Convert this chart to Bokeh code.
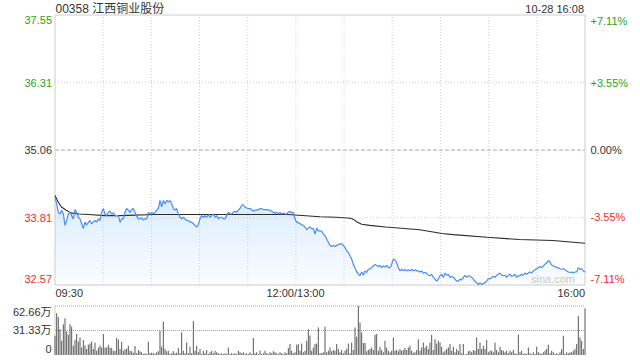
import numpy as np
from bokeh.plotting import figure
from bokeh.models import Range1d, Label
from bokeh.embed import file_html
from bokeh.resources import INLINE

title_text = "00358 江西铜业股份"
stamp_text = "10-28 16:08"
prev_close = 35.06
price_ticks = [37.55, 36.31, 35.06, 33.81, 32.57]
pct_labels = ["+7.11%", "+3.55%", "0.00%", "-3.55%", "-7.11%"]
time_labels = ["09:30", "12:00/13:00", "16:00"]
vol_ticks = [62.66, 31.33, 0]
vol_labels = ["62.66万", "31.33万", "0"]

price = [
    34.19, 34.07, 33.91, 33.88, 33.95, 33.88, 33.67, 33.76, 33.88, 33.91,
    33.85, 33.79, 33.96, 33.91, 33.82, 33.79, 33.70, 33.61, 33.73, 33.68,
    33.72, 33.76, 33.70, 33.73, 33.76, 33.73, 33.79, 33.76, 33.91, 33.98,
    33.88, 33.85, 33.91, 33.93, 33.88, 33.90, 33.85, 33.85, 33.85, 33.73,
    33.79, 33.79, 33.91, 33.98, 33.95, 33.91, 33.96, 33.98, 33.91, 33.85,
    33.79, 33.79, 33.81, 33.77, 33.79, 33.79, 33.91, 33.88, 33.91, 33.88,
    33.91, 33.95, 33.98, 34.13, 34.01, 34.13, 34.07, 34.13, 34.10, 34.13,
    34.07, 33.99, 33.95, 33.98, 33.88, 33.82, 33.79, 33.82, 33.79, 33.76,
    33.76, 33.73, 33.73, 33.70, 33.67, 33.64, 33.68, 33.79, 33.85, 33.82,
    33.85, 33.82, 33.87, 33.82, 33.85, 33.88, 33.82, 33.85, 33.79, 33.82,
    33.82, 33.79, 33.79, 33.85, 33.91, 33.88, 33.88, 33.91, 33.93, 33.91,
    33.95, 33.98, 34.04, 34.05, 34.01, 33.99, 33.98, 33.98, 33.96, 33.93,
    33.95, 33.95, 33.96, 33.98, 33.98, 33.96, 33.96, 33.96, 33.95, 33.95,
    33.93, 33.91, 33.90, 33.91, 33.88, 33.91, 33.88, 33.90, 33.88, 33.88,
    33.91, 33.93, 33.90, 33.91, 33.79, 33.73, 33.72, 33.70, 33.68, 33.67,
    33.64, 33.59, 33.62, 33.64, 33.61, 33.61, 33.51, 33.62, 33.57,
    33.57, 33.56, 33.51, 33.48, 33.42, 33.36, 33.30, 33.28, 33.30, 33.28,
    33.30, 33.31, 33.33, 33.33, 33.30, 33.26, 33.20, 33.17, 33.11, 33.05,
    32.95, 32.89, 32.81, 32.77, 32.74, 32.81, 32.75, 32.83, 32.80, 32.86,
    32.87, 32.89, 32.92, 32.95, 32.93, 32.91, 32.93, 32.89, 32.92, 32.90,
    32.93, 32.89, 32.89, 32.95, 33.05, 33.03, 32.98, 32.89, 32.83, 32.86,
    32.83, 32.86, 32.83, 32.85, 32.83, 32.86, 32.83, 32.85, 32.83, 32.83,
    32.81, 32.83, 32.79, 32.80, 32.79, 32.75, 32.74, 32.77, 32.71, 32.68,
    32.64, 32.68, 32.74, 32.77, 32.71, 32.79, 32.75, 32.77, 32.71, 32.73,
    32.71, 32.68, 32.64, 32.64, 32.68, 32.66, 32.71, 32.75, 32.71, 32.74,
    32.73, 32.71, 32.68, 32.64, 32.61, 32.58, 32.61, 32.58, 32.60, 32.61,
    32.64, 32.69, 32.68, 32.71, 32.73, 32.71, 32.75, 32.77, 32.79, 32.75,
    32.74, 32.75, 32.71, 32.75, 32.77, 32.73, 32.74, 32.77, 32.71, 32.74,
    32.74, 32.77, 32.75, 32.79, 32.77, 32.79, 32.81, 32.79, 32.83, 32.85,
    32.87, 32.89, 32.91, 32.89, 32.92, 32.95, 32.98, 33.02, 33.00, 32.94,
    32.92, 32.91, 32.89, 32.89, 32.87, 32.86, 32.87, 32.85, 32.83, 32.81,
    32.80, 32.81, 32.79, 32.81, 32.81, 32.89, 32.86, 32.87, 32.83, 32.81,
]

avg_t = [0, 2, 4, 7, 10, 15, 21, 31, 41, 62, 83, 104, 124, 145, 165, 175, 184,
         186, 188, 191, 196, 206, 227, 241, 248, 269, 289, 310, 330]
avg_v = [34.22, 34.10, 34.01, 33.95, 33.90, 33.88, 33.87, 33.85, 33.85, 33.87,
         33.87, 33.87, 33.87, 33.87, 33.83, 33.82, 33.80, 33.78, 33.73, 33.69,
         33.67, 33.64, 33.59, 33.52, 33.50, 33.45, 33.41, 33.39, 33.34]

volume = [
    24.6, 53.3, 48.7, 33.0, 18.2, 39.4, 47.0, 30.1, 25.8, 39.4,
    36.0, 11.9, 19.1, 26.7, 17.4, 22.4, 9.7, 19.1, 12.3, 7.6,
    13.1, 14.8, 17.4, 7.6, 15.7, 5.5, 9.7, 12.3, 9.7, 26.7,
    9.7, 9.7, 13.1, 9.7, 8.9, 5.5, 5.5, 21.6, 19.9, 7.6,
    16.5, 5.5, 7.2, 8.0, 11.9, 5.5, 4.7, 3.0, 11.4, 2.1,
    6.4, 4.7, 3.4, 1.3, 2.1, 1.3, 16.9, 2.1, 3.0, 2.5,
    1.3, 3.4, 4.7, 30.9, 10.6, 42.8, 7.6, 4.7, 5.5, 1.3,
    2.1, 4.7, 2.1, 3.0, 8.9, 2.1, 28.8, 5.5, 2.1, 16.1,
    2.1, 10.6, 2.1, 43.6, 5.5, 11.9, 3.4, 7.6, 1.3, 5.5,
    2.1, 6.4, 1.3, 3.4, 5.5, 2.1, 5.5, 3.4, 2.1, 1.3,
    2.1, 1.3, 2.1, 1.3, 9.7, 1.3, 2.1, 1.3, 2.1, 1.3,
    5.5, 3.4, 2.1, 3.4, 1.3, 2.1, 1.3, 3.4, 1.3, 21.6,
    2.1, 3.4, 1.3, 5.5, 1.3, 2.1, 5.5, 2.1, 1.3, 3.4,
    2.1, 4.7, 3.4, 2.1, 1.3, 3.4, 2.1, 1.3, 3.4, 2.1,
    8.9, 14.0, 5.5, 2.1, 3.4, 13.1, 14.0, 5.5, 14.8, 3.4,
    5.5, 18.2, 33.0, 25.0, 5.5, 9.7, 14.0, 14.8, 35.1,
    2.1, 2.5, 3.4, 36.0, 3.4, 5.5, 9.7, 4.7, 6.4, 5.5,
    14.0, 7.6, 3.4, 6.4, 2.1, 5.5, 7.6, 14.8, 2.1, 16.1,
    6.4, 35.1, 23.3, 62.66, 41.5, 28.8, 15.2, 15.2, 4.7, 6.4,
    7.6, 9.7, 6.4, 25.8, 26.7, 5.5, 10.6, 6.4, 3.4, 18.2,
    9.7, 5.5, 3.4, 5.5, 22.4, 5.5, 6.4, 4.7, 7.6, 5.5,
    6.4, 8.9, 6.4, 9.7, 11.9, 5.5, 3.0, 3.4, 6.4, 20.3,
    5.5, 9.7, 16.1, 9.7, 11.9, 7.6, 16.1, 25.8, 6.4, 20.3,
    14.8, 18.2, 16.1, 10.6, 3.4, 5.5, 7.6, 9.7, 14.0, 5.5,
    10.6, 3.4, 7.6, 5.5, 14.0, 2.1, 14.0, 0.5, 1.3, 4.7,
    5.5, 3.4, 6.4, 5.5, 22.4, 7.6, 16.1, 7.6, 11.9, 7.6,
    19.1, 3.4, 5.5, 5.5, 3.4, 16.1, 6.4, 3.4, 10.6, 6.4,
    5.5, 3.4, 5.5, 2.1, 5.5, 3.4, 6.4, 2.1, 1.3, 25.8,
    3.4, 5.5, 1.3, 2.1, 1.3, 9.7, 2.1, 1.3, 3.4, 1.3,
    10.6, 3.4, 2.1, 1.3, 3.4, 5.5, 7.6, 13.1, 2.1, 5.5,
    3.4, 1.3, 2.1, 1.3, 3.4, 7.6, 24.6, 1.3, 3.4, 2.1,
    3.4, 3.4, 5.5, 7.6, 14.0, 50.0, 22.4, 18.2, 7.6, 59.7,
]

TOTAL_MIN = 330
t = np.linspace(0, TOTAL_MIN, len(price))
tv = np.linspace(0, TOTAL_MIN, len(volume))
price_arr = np.array(price)

# ---- pixel geometry (frame = whole canvas) --------------------------------
W, H = 640, 360
X0PX, X1PX = 54.5, 584.5
ppm = (X1PX - X0PX) / TOTAL_MIN
x_start = -X0PX / ppm
x_end = TOTAL_MIN + (W - X1PX) / ppm
P_HI, P_LO = price_ticks[0], price_ticks[-1]
PTOP, PBOT = 14.5, 284.5
ppu = (PBOT - PTOP) / (P_HI - P_LO)
y_end = P_HI + PTOP / ppu
y_start = P_LO - (H - PBOT) / ppu
V0, V1 = 354.5, 305.5
vpu = (V0 - V1) / vol_ticks[0]
v_start = -(H - V0) / vpu
v_end = vol_ticks[0] + V1 / vpu


def dx(px):
    return (px - X0PX) / ppm


def dy(py):
    return P_HI - (py - PTOP) / ppu


def dv(v):
    # volume value -> price-axis coordinate (same pixel row)
    return dy(V0 - v * vpu)


p = figure(width=W, height=H, x_range=Range1d(x_start, x_end),
           y_range=Range1d(y_start, y_end), x_axis_location=None,
           y_axis_location=None, toolbar_location=None, output_backend="svg",
           min_border=0)
p.outline_line_color = None
p.xgrid.visible = False
p.ygrid.visible = False
p.background_fill_color = "white"
p.border_fill_color = "white"
p.extra_y_ranges = {"vol": Range1d(v_start, v_end)}

GREEN = "#1ea51e"
RED = "#f52a2a"
DARK = "#333333"
FONT = "Liberation Sans, Noto Sans CJK SC"

# gradient fill under the price line
BLUE = "#3d7fe6"
p.varea(x=t, y1=P_LO, y2=np.maximum(price_arr, P_LO), fill_color=BLUE, fill_alpha=0.025)
for lvl in np.arange(32.65, 34.25, 0.1):
    p.varea(x=t, y1=lvl, y2=np.maximum(price_arr, lvl), fill_color=BLUE, fill_alpha=0.006)

# grid lines
gx = [30 * k for k in range(1, 11)]
p.segment(x0=gx, y0=[P_LO] * len(gx), x1=gx, y1=[P_HI] * len(gx),
          line_color="#d0d0d0", line_width=1, line_dash="1 2")
p.segment(x0=[0, 0], y0=[price_ticks[1], price_ticks[3]], x1=[TOTAL_MIN, TOTAL_MIN],
          y1=[price_ticks[1], price_ticks[3]], line_color="#cccccc", line_width=1,
          line_dash="1 2")
p.segment(x0=[0], y0=[prev_close], x1=[TOTAL_MIN], y1=[prev_close],
          line_color="#aaaaaa", line_width=1, line_dash="4 2")

# frame border of price panel
p.segment(x0=[0, TOTAL_MIN, 0, 0], y0=[P_LO, P_LO, P_HI, P_LO],
          x1=[0, TOTAL_MIN, TOTAL_MIN, TOTAL_MIN], y1=[P_HI, P_HI, P_HI, P_LO],
          line_color="#cccccc", line_width=1)

# lines
p.line(avg_t, avg_v, line_color="#2b2b2b", line_width=1.1)
p.line(t, price, line_color="#4a8cf0", line_width=1.2)

# volume panel
vy = [dv(vol_ticks[0]), dv(vol_ticks[1])]
p.segment(x0=[0, 0], y0=vy, x1=[TOTAL_MIN, TOTAL_MIN], y1=vy,
          line_color="#a0a0a0", line_width=1, line_dash="1 1")
p.segment(x0=[0], y0=[dv(0)], x1=[0], y1=[dv(vol_ticks[0])],
          line_color="#cccccc", line_width=1)
p.vbar(x=tv, top=volume, bottom=0, width=1.0 / ppm, fill_color="#5a5a5a",
       line_color=None, y_range_name="vol")


def lab(text, px, py, align, color=DARK, size="11px"):
    p.add_layout(Label(x=dx(px), y=dy(py), text=text, text_align=align,
                       text_baseline="middle", text_color=color,
                       text_font_size=size, text_font=FONT))


lab(title_text, 55, 8.5, "left", DARK, "12px")
lab(stamp_text, 583.5, 8.2, "right", DARK, "11px")

left_y = [19.5, 82.2, 149.5, 217, 278.2]
right_y = [20.5, 82, 149.5, 216.7, 278.3]
cols = [GREEN, GREEN, DARK, RED, RED]
for v, pl, ly, ry, c in zip(price_ticks, pct_labels, left_y, right_y, cols):
    lab(f"{v:.2f}", 51.5, ly, "right", c)
    lab(pl, 590, ry, "left", c)

lab(time_labels[0], 55, 292.5, "left")
lab(time_labels[1], 295, 292.5, "center")
lab(time_labels[2], 584.5, 292.5, "right")

for txt, yy in zip(vol_labels, [311, 329, 348.5]):
    lab(txt, 51, yy, "right")

lab("sina.com", 552.5, 278, "center", "#c8c8c8", "11px")

open("out.html", "w").write(file_html(p, INLINE))
